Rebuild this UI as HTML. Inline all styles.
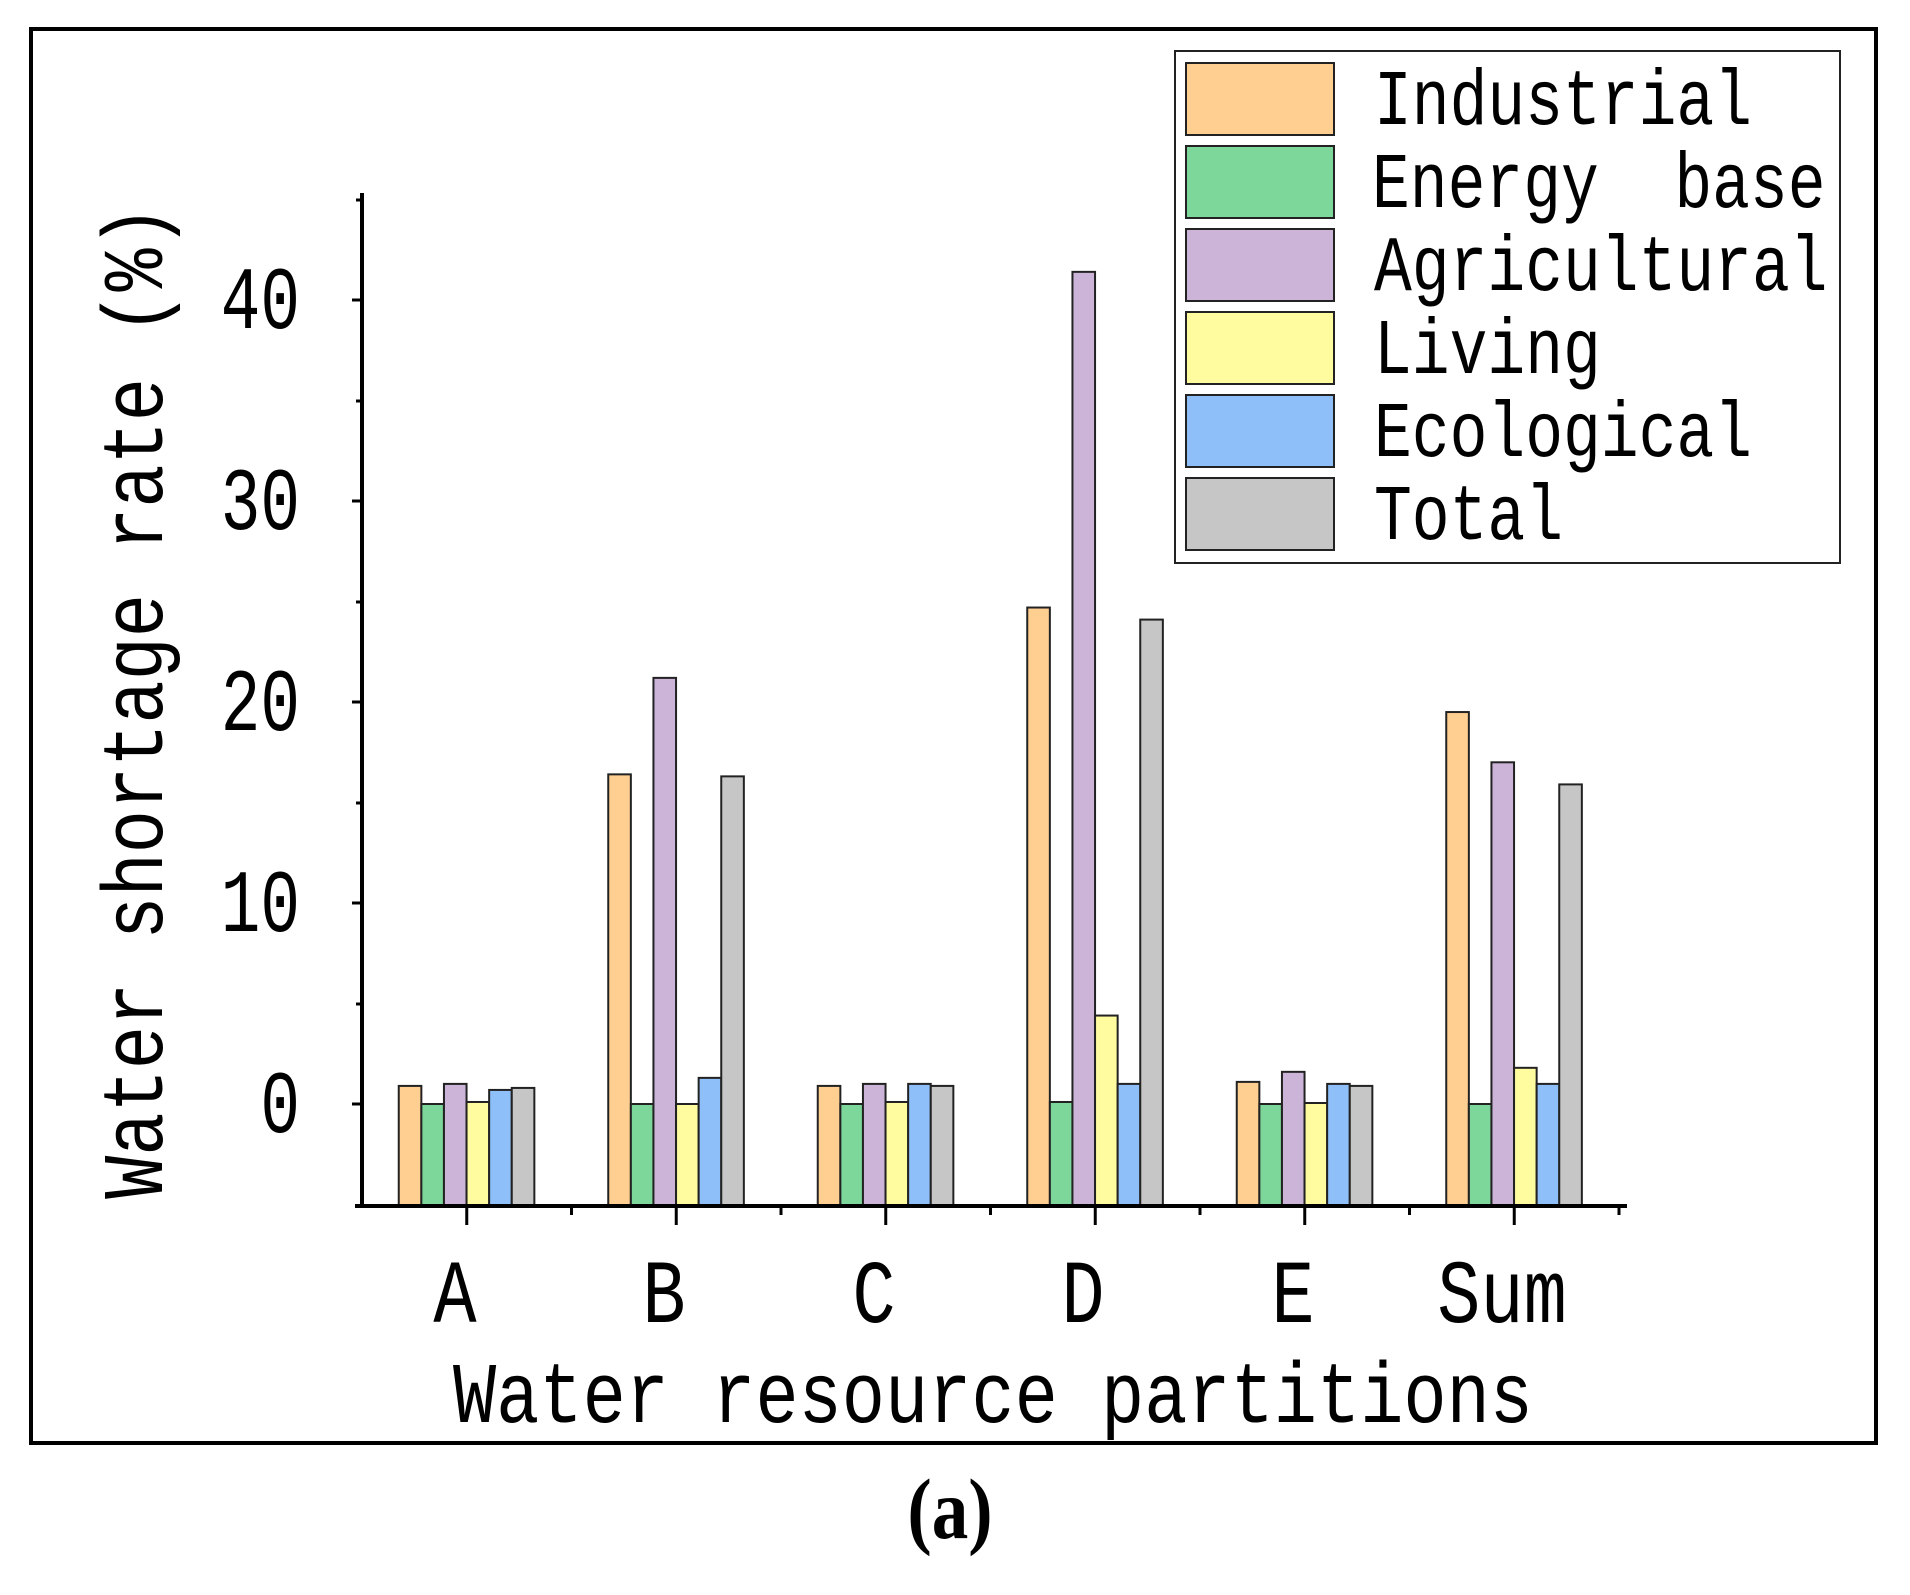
<!DOCTYPE html>
<html><head><meta charset="utf-8"><style>
html,body{margin:0;padding:0;background:#fff;}
svg text{font-family:"Liberation Mono",monospace;fill:#000;}
</style></head><body>
<svg width="1910" height="1590" viewBox="0 0 1910 1590" xmlns="http://www.w3.org/2000/svg">
<rect x="31" y="29" width="1845" height="1414" fill="none" stroke="#000" stroke-width="4"/>
<g id="bars" stroke="#222" stroke-width="2"></g>
<line x1="362" y1="193" x2="362" y2="1208" stroke="#000" stroke-width="4"/>
<line x1="355" y1="1206" x2="1627" y2="1206" stroke="#000" stroke-width="4"/>
<g stroke="#000" stroke-width="3">
<line x1="352" y1="1104" x2="362" y2="1104"/><line x1="352" y1="903" x2="362" y2="903"/><line x1="352" y1="702" x2="362" y2="702"/><line x1="352" y1="501" x2="362" y2="501"/><line x1="352" y1="300" x2="362" y2="300"/>
<line x1="356" y1="1004" x2="362" y2="1004"/><line x1="356" y1="803" x2="362" y2="803"/><line x1="356" y1="602" x2="362" y2="602"/><line x1="356" y1="401" x2="362" y2="401"/><line x1="356" y1="200" x2="362" y2="200"/>
</g>
<g id="xt" stroke="#000" stroke-width="3"></g>
<g font-size="66" text-anchor="end">
<text transform="translate(300,1132) scale(1,1.35)">0</text>
<text transform="translate(300,931) scale(1,1.35)">10</text>
<text transform="translate(300,730) scale(1,1.35)">20</text>
<text transform="translate(300,529) scale(1,1.35)">30</text>
<text transform="translate(300,328) scale(1,1.35)">40</text>
</g>
<g font-size="72" text-anchor="middle">
<text transform="translate(455,1322) scale(1,1.25)">A</text>
<text transform="translate(664,1322) scale(1,1.25)">B</text>
<text transform="translate(874,1322) scale(1,1.25)">C</text>
<text transform="translate(1083,1322) scale(1,1.25)">D</text>
<text transform="translate(1293,1322) scale(1,1.25)">E</text>
<text transform="translate(1502,1322) scale(1,1.25)">Sum</text>
<text transform="translate(993,1422) scale(1,1.2)">Water resource partitions</text>
<text transform="translate(162,702) rotate(-90) scale(1,1.2)">Water shortage rate (%)</text>
</g>
<rect x="1175" y="51" width="665" height="512" fill="#fff" stroke="#222" stroke-width="2"/>
<g stroke="#222" stroke-width="2">
<rect x="1186" y="63" width="148" height="72" fill="#FFCF91"/>
<rect x="1186" y="146" width="148" height="72" fill="#7DD69A"/>
<rect x="1186" y="229" width="148" height="72" fill="#CBB4D8"/>
<rect x="1186" y="312" width="148" height="72" fill="#FFFCA0"/>
<rect x="1186" y="395" width="148" height="72" fill="#8FBFF9"/>
<rect x="1186" y="478" width="148" height="72" fill="#C6C6C6"/>
</g>
<g font-size="63">
<text transform="translate(1374,124) scale(1,1.25)">Industrial</text>
<text transform="translate(1372,207) scale(1,1.25)" xml:space="preserve">Energy  base</text>
<text transform="translate(1374,290) scale(1,1.25)">Agricultural</text>
<text transform="translate(1374,373) scale(1,1.25)">Living</text>
<text transform="translate(1374,456) scale(1,1.25)">Ecological</text>
<text transform="translate(1374,539) scale(1,1.25)">Total</text>
</g>
<text transform="translate(950,1538) scale(0.85,1)" font-size="86" text-anchor="middle" font-weight="bold" style="font-family:'Liberation Serif',serif">(a)</text>
</svg>
<script>
var d=[[0.9,0,1.0,0.1,0.7,0.8],[16.4,0,21.2,0,1.3,16.3],[0.9,0,1.0,0.1,1.0,0.9],[24.7,0.1,41.4,4.4,1.0,24.1],[1.1,0,1.6,0.05,1.0,0.9],[19.5,0,17.0,1.8,1.0,15.9]];
var c=["#FFCF91","#7DD69A","#CBB4D8","#FFFCA0","#8FBFF9","#C6C6C6"];
var g=document.getElementById("bars"),s="",t="";
for(var i=0;i<6;i++){var cx=362+(i+0.5)*209.5;var x0=cx-68;
for(var j=0;j<6;j++){var y=1104-20.1*d[i][j];s+='<rect x="'+(x0+j*22.6)+'" y="'+y+'" width="22.6" height="'+(1206-y)+'" fill="'+c[j]+'"/>';}
t+='<line x1="'+cx+'" y1="1206" x2="'+cx+'" y2="1225"/>';
t+='<line x1="'+(362+(i+1)*209.5)+'" y1="1206" x2="'+(362+(i+1)*209.5)+'" y2="1215"/>';}
g.innerHTML=s;document.getElementById("xt").innerHTML=t;
</script>
</body></html>
